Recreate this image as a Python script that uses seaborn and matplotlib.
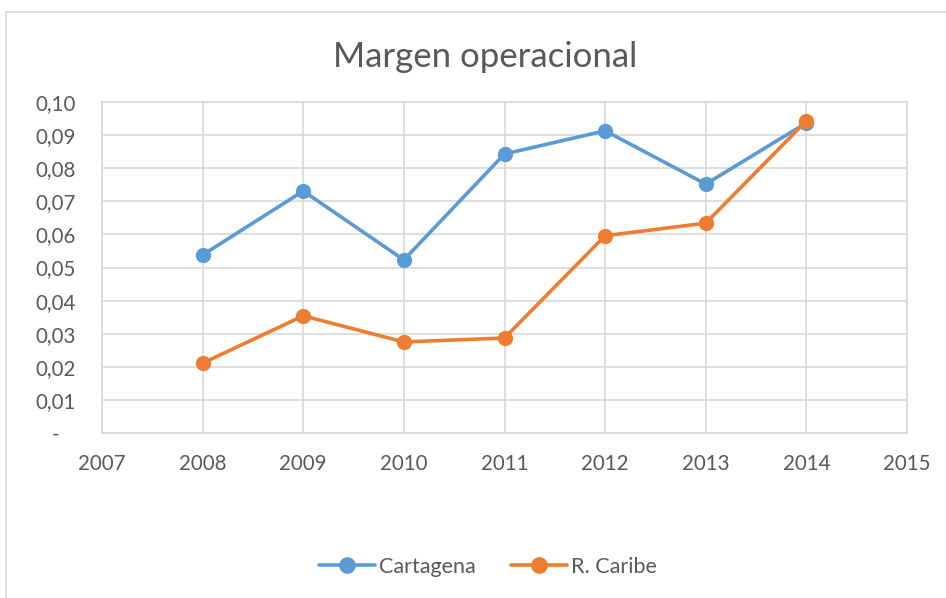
import matplotlib
matplotlib.use("Agg")
import matplotlib.pyplot as plt
import seaborn as sns
import pandas as pd
from matplotlib.ticker import FuncFormatter, MultipleLocator
from matplotlib.patches import Rectangle
from matplotlib.lines import Line2D

years = [2008, 2009, 2010, 2011, 2012, 2013, 2014]
cartagena = [0.0538, 0.0731, 0.0523, 0.0843, 0.0913, 0.0752, 0.0937]
r_caribe = [0.0211, 0.0354, 0.0275, 0.0287, 0.0596, 0.0634, 0.0943]
series_names = ["Cartagena", "R. Caribe"]
colors = ["#5B9BD5", "#ED7D31"]
title = "Margen operacional"

df = pd.DataFrame({
    "Año": years * 2,
    "Valor": cartagena + r_caribe,
    "Serie": [series_names[0]] * len(years) + [series_names[1]] * len(years),
})

sns.set_theme(style="white")
plt.rcParams["font.family"] = ["Lato", "DejaVu Sans"]
text_color = "#595959"
grid_color = "#D9D9D9"

W, H = 946, 598
fig = plt.figure(figsize=(W / 100, H / 100), dpi=100)
ax = fig.add_axes([102 / W, 1 - 433 / H, (907 - 102) / W, (433 - 102) / H])

# outer chart border
fig.patches.append(Rectangle((6 / W, -0.05), 1.1, 1 - 12 / H + 0.05,
                             transform=fig.transFigure, fill=False,
                             edgecolor=grid_color, linewidth=1.2, zorder=0))

sns.lineplot(data=df, x="Año", y="Valor", hue="Serie", palette=colors,
             marker="o", markersize=11, markeredgewidth=0, linewidth=2.6,
             ax=ax, legend=False)

ax.set_xlim(2007, 2015)
ax.set_ylim(0, 0.10)
ax.xaxis.set_major_locator(MultipleLocator(1))
ax.yaxis.set_major_locator(MultipleLocator(0.01))
ax.yaxis.set_major_formatter(FuncFormatter(
    lambda v, p: "-   " if abs(v) < 1e-9 else f"{v:.2f}".replace(".", ",")))
ax.xaxis.set_major_formatter(FuncFormatter(lambda v, p: f"{int(round(v))}"))
ax.grid(True, color=grid_color, linewidth=1.2)
ax.set_axisbelow(True)
for s in ax.spines.values():
    s.set_color(grid_color)
    s.set_linewidth(1.2)
ax.tick_params(axis="both", length=0, labelsize=14.8, colors=text_color)
ax.tick_params(axis="y", pad=19)
ax.tick_params(axis="x", pad=15)
ax.set_xlabel("")
ax.set_ylabel("")

fig.text(485 / W, 1 - 57 / H, title, ha="center", va="center",
         fontsize=25, color=text_color)

handles = [Line2D([0], [0], color=c, linewidth=2.6, marker="o", markersize=12,
                  markeredgewidth=0) for c in colors]
leg = fig.legend(handles, series_names, loc="center", bbox_to_anchor=(488 / W, 1 - 567 / H),
                 ncol=2, frameon=False, fontsize=15.5, handlelength=2.6,
                 handletextpad=0.2, columnspacing=1.6)
for t in leg.get_texts():
    t.set_color(text_color)

fig.savefig("out.png", dpi=100)
